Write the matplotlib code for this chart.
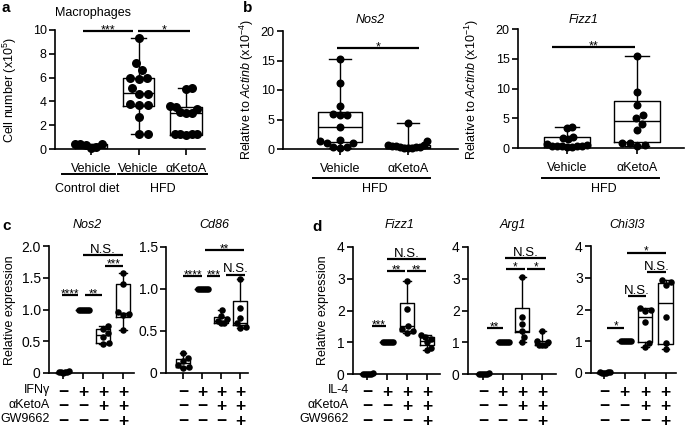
"""Macrophage counts and M1/M2 marker expression (panels a-d)."""

import matplotlib

matplotlib.use("Agg")
import matplotlib.pyplot as plt
import numpy as np
from matplotlib.font_manager import FontProperties
from matplotlib.lines import Line2D
from matplotlib.transforms import blended_transform_factory

W, H = 685, 430

plt.rcParams["font.family"] = ["Liberation Sans", "DejaVu Sans"]
plt.rcParams["mathtext.fontset"] = "custom"
plt.rcParams["mathtext.rm"] = "Liberation Sans"
plt.rcParams["mathtext.it"] = "Liberation Sans:italic"
plt.rcParams["font.size"] = 9

# ---- panel a: macrophages, cell number (x10^5)
a_labels = ["Vehicle", "Vehicle", "\u03b1KetoA"]
a_ctrl_veh = [0.4, 0.4, 0.35, 0.2, 0.05, 0.4]
a_hfd_veh = [9.3, 7.2, 6.6, 6.0, 5.95, 5.9, 5.1, 4.6, 4.6, 3.75, 3.7, 3.7, 2.7, 1.3, 1.3]
a_hfd_keto = [5.1, 5.05, 3.6, 3.5, 3.4, 3.1, 3.05, 3.0, 1.3, 1.3, 1.28, 1.25, 1.15]
a_box = [(0.1, 0.3, 0.4), (3.65, 4.7, 6.0), (1.2, 3.0, 3.5)]

# ---- panel b: relative to Actinb, HFD mice
b_labels = ["Vehicle", "\u03b1KetoA"]
b_nos2_veh = [15.2, 11.2, 7.3, 5.9, 5.8, 5.7, 3.8, 1.5, 1.3, 1.1, 1.0, 0.4, 0.4, 0.1]
b_nos2_keto = [4.4, 1.3, 0.7, 0.6, 0.5, 0.5, 0.4, 0.3, 0.3, 0.2, 0.2, 0.1]
b_nos2_box = [(1.25, 3.8, 6.3), (0.15, 0.35, 0.6)]
b_fizz1_veh = [3.5, 3.3, 1.8, 1.6, 1.5, 0.6, 0.5, 0.4, 0.4, 0.3, 0.3, 0.3, 0.2, 0.2]
b_fizz1_keto = [15.4, 9.4, 7.3, 5.5, 5.0, 4.1, 3.0, 0.85, 0.85, 0.45, 0.3]
b_fizz1_box = [(0.17, 0.45, 1.85), (1.0, 4.6, 7.9)]

# ---- panels c/d: relative expression in BMDM
c_rows = ["IFN\u03b3", "\u03b1KetoA", "GW9662"]
d_rows = ["IL-4", "\u03b1KetoA", "GW9662"]
row_signs = [
    ["\u2212", "+", "+", "+"],
    ["\u2212", "\u2212", "+", "+"],
    ["\u2212", "\u2212", "\u2212", "+"],
]

c_nos2 = [
    [0.02, 0.01, 0.0, 0.03, 0.01, 0.02],
    [1.0, 1.0, 1.0, 1.0, 1.0, 1.0],
    [0.74, 0.70, 0.63, 0.57, 0.48, 0.45],
    [1.57, 1.40, 0.96, 0.93, 0.91, 0.68],
]
c_nos2_box = [(0.0, 0.01, 0.02), (1.0, 1.0, 1.0), (0.47, 0.6, 0.70), (0.88, 0.95, 1.40)]

c_cd86 = [
    [0.24, 0.18, 0.14, 0.10, 0.07, 0.06],
    [1.0, 1.0, 1.0, 1.0, 1.0, 1.0],
    [0.75, 0.68, 0.64, 0.62, 0.60, 0.60],
    [1.12, 0.77, 0.66, 0.60, 0.55, 0.54],
]
c_cd86_box = [(0.07, 0.12, 0.17), (1.0, 1.0, 1.0), (0.60, 0.62, 0.67), (0.57, 0.60, 0.86)]

d_fizz1 = [
    [0.0, 0.01, 0.0, 0.02, 0.0, 0.01],
    [1.0, 1.0, 1.0, 1.0, 1.0, 1.0],
    [2.93, 2.05, 1.5, 1.42, 1.35, 1.3],
    [1.24, 1.18, 1.1, 1.02, 0.82, 0.75],
]
d_fizz1_box = [(0.0, 0.0, 0.01), (1.0, 1.0, 1.0), (1.35, 1.5, 2.25), (0.9, 1.05, 1.15)]

d_arg1 = [
    [0.0, 0.01, 0.0, 0.02, 0.0, 0.01],
    [1.0, 1.0, 1.0, 1.0, 1.0, 1.0],
    [3.07, 1.78, 1.58, 1.36, 1.18, 1.0],
    [1.35, 1.05, 1.0, 0.92, 0.9, 0.9],
]
d_arg1_box = [(0.0, 0.0, 0.01), (1.0, 1.0, 1.0), (1.32, 1.37, 2.07), (0.9, 0.95, 1.05)]

d_chi3l3 = [
    [0.02, 0.0, 0.01, 0.03, 0.0, 0.02],
    [1.0, 1.0, 1.0, 1.0, 1.0, 1.0],
    [2.05, 2.0, 1.95, 1.6, 0.95, 0.82],
    [2.93, 2.88, 2.78, 1.75, 0.95, 0.75],
]
d_chi3l3_box = [(0.0, 0.01, 0.02), (1.0, 1.0, 1.0), (0.97, 1.75, 2.0), (0.9, 2.2, 2.85)]

# significance bars: (x1, x2, y, label) in group units / data units
a_sig = [(-0.17, 0.88, 9.9, "***"), (0.99, 2.08, 9.9, "*")]
b_nos2_sig = [(-0.04, 1.16, 17.1, "*")]
b_fizz1_sig = [(-0.21, 0.97, 17.0, "**")]
c_nos2_sig = [(-0.05, 0.75, 1.23, "****"), (1.1, 1.95, 1.23, "**"),
              (2.1, 3.0, 1.69, "***"), (1.0, 3.0, 1.86, "N.S.")]
c_cd86_sig = [(0.0, 1.0, 1.15, "****"), (1.26, 1.95, 1.15, "***"),
              (2.26, 3.26, 1.17, "N.S."), (1.16, 3.2, 1.46, "**")]
d_fizz1_sig = [(0.25, 0.95, 1.52, "***"), (1.0, 1.9, 3.24, "**"),
               (2.0, 2.95, 3.24, "**"), (1.0, 2.95, 3.61, "N.S.")]
d_arg1_sig = [(0.2, 1.0, 1.45, "**"), (1.17, 2.13, 3.32, "*"),
              (2.23, 3.15, 3.32, "*"), (1.1, 3.2, 3.64, "N.S.")]
d_chi3l3_sig = [(0.15, 0.98, 1.43, "*"), (1.17, 2.05, 2.42, "N.S."),
                (2.1, 3.0, 3.18, "N.S."), (1.1, 3.0, 3.79, "*")]

ROW_Y = [391, 406, 420]  # px from top, glyph centres of the +/- table rows

fig = plt.figure(figsize=(W / 100, H / 100), dpi=100)
fig.patch.set_facecolor("white")
renderer = fig.canvas.get_renderer()


def fy(ypx):
    return 1 - ypx / H


def make_axes(spine_x, end_x, y_zero, y_top, tick0_x, step_x, ymax, yticks, yticklabels, labelsize):
    ax = fig.add_axes([spine_x / W, fy(y_zero), (end_x - spine_x) / W, (y_zero - y_top) / H])
    ax.set_xlim((spine_x - tick0_x) / step_x, (end_x - tick0_x) / step_x)
    ax.set_ylim(0, ymax)
    ax.spines[["top", "right"]].set_visible(False)
    for s in ("left", "bottom"):
        ax.spines[s].set_linewidth(1.2)
    ax.set_yticks(yticks)
    ax.set_yticklabels(yticklabels)
    ax.tick_params(direction="out", length=4, width=1.2, labelsize=labelsize, pad=2)
    ax.patch.set_alpha(0)
    ax.px_x = step_x
    ax.px_y = (y_zero - y_top) / ymax
    return ax


def swarm(vals, px_y, d, hw):
    """Beeswarm offsets in px; squeezed into +-hw when too wide."""
    ys = np.asarray(vals, dtype=float) * px_y
    offs = np.zeros(len(ys))
    placed = []
    for i in np.argsort(ys):
        cands = [0.0]
        for py, ox in placed:
            dy = ys[i] - py
            if abs(dy) < d:
                dx = np.sqrt(d * d - dy * dy)
                cands += [ox + dx, ox - dx]
        cands.sort(key=abs)
        for c in cands:
            if all((ys[i] - py) ** 2 + (c - ox) ** 2 >= d * d - 1e-6 for py, ox in placed):
                offs[i] = c
                break
        placed.append((ys[i], offs[i]))
    m = np.abs(offs).max()
    if m > hw:
        offs *= hw / m
    return offs


def draw_groups(ax, groups, boxes, width, dot_px, d, hw):
    stats = []
    for vals, (q1, med, q3) in zip(groups, boxes):
        stats.append(dict(whislo=min(vals), q1=q1, med=med, q3=q3, whishi=max(vals), fliers=[]))
    lp = dict(color="black", linewidth=1.0)
    arts = ax.bxp(stats, positions=range(len(groups)), widths=width, showfliers=False,
                  boxprops=lp, whiskerprops=lp, capprops=lp, medianprops=lp,
                  manage_ticks=False)
    for k in arts:
        for a in arts[k]:
            a.set_clip_on(False)
            a.set_zorder(2)
    ms = (dot_px * 0.72) ** 2
    for i, vals in enumerate(groups):
        off = swarm(vals, ax.px_y, d, hw) / ax.px_x
        ax.scatter(i + off, vals, s=ms, color="black", linewidths=0, zorder=3, clip_on=False)
    ax.set_xticks(range(len(groups)))


def draw_sig(ax, sigs, star_fs, ns_fs, lw=1.6):
    for x1, x2, y, lab in sigs:
        ax.plot([x1, x2], [y, y], color="black", lw=lw, solid_capstyle="butt", clip_on=False)
        if lab.startswith("N"):
            ax.annotate(lab, ((x1 + x2) / 2, y), xytext=(0, 1.6), textcoords="offset points",
                        ha="center", va="baseline", fontsize=ns_fs, annotation_clip=False)
        else:
            ax.annotate(lab, ((x1 + x2) / 2, y), xytext=(0, -1.6), textcoords="offset points",
                        ha="center", va="baseline", fontsize=star_fs, annotation_clip=False)


def under_line(ax, x1, x2, ypx):
    tr = blended_transform_factory(ax.transData, fig.transFigure)
    fig.add_artist(Line2D([x1, x2], [fy(ypx), fy(ypx)], transform=tr, color="black", lw=1.4))


def under_text(ax, x, ypx, s, **kw):
    tr = blended_transform_factory(ax.transData, fig.transFigure)
    fig.text(x, fy(ypx), s, transform=tr, ha="center", va="center", **kw)


def block_layout(fs, weight, centre_em):
    """Top y and line spacing so that each row's glyph centre lands on ROW_Y."""
    fp = FontProperties(size=fs, weight=weight)
    _, h, d = renderer.get_text_width_height_descent("lp", fp, ismath=False)
    gap = (ROW_Y[2] - ROW_Y[0]) / 2
    ls = (gap - d) / (h - d)
    em = fs * 100 / 72
    top = ROW_Y[0] + centre_em * em - (h - d)
    return top, ls


SIGN_FS = 12.5
sign_top, sign_ls = block_layout(SIGN_FS, "bold", 0.34)
lab_top, lab_ls = block_layout(9, "normal", 0.17)


def sign_rows(ax):
    # one text per column of the condition table
    tr = blended_transform_factory(ax.transData, fig.transFigure)
    for i in range(len(row_signs[0])):
        col = "\n".join(row[i] for row in row_signs)
        fig.text(i, fy(sign_top), col, transform=tr, ha="center", va="top",
                 fontsize=SIGN_FS, fontweight="bold", linespacing=sign_ls)


def row_labels(xpx, labels):
    fig.text(xpx / W, fy(lab_top), "\n".join(labels), ha="right", va="top",
             multialignment="right", fontsize=9, linespacing=lab_ls)


# ================= panel a
ax = make_axes(55, 205, 149, 30, 91, 47.5, 10, [0, 2, 4, 6, 8, 10],
               ["0", "2", "4", "6", "8", "10"], 9)
draw_groups(ax, [a_ctrl_veh, a_hfd_veh, a_hfd_keto], a_box, 0.67, 9, 9, 16)
ax.set_xticklabels(a_labels, fontsize=9)
ax.tick_params(axis="x", pad=6)
draw_sig(ax, a_sig, 9, 9)
fig.text(10 / W, fy(90), "Cell number (x10$^5$)", rotation=90, ha="center", va="center", fontsize=9)
fig.text(55 / W, fy(13), "Macrophages", ha="left", va="center", fontsize=9)
under_line(ax, -0.61, 0.5, 174)
under_line(ax, 0.57, 2.44, 174)
under_text(ax, -0.08, 189, "Control diet", fontsize=9)
under_text(ax, 1.52, 189, "HFD", fontsize=9)
fig.text(2 / W, fy(8), "a", fontsize=11, fontweight="bold", ha="left", va="center")

# ================= panel b
ax = make_axes(283, 458, 149, 31, 340, 68, 20, [0, 5, 10, 15, 20],
               ["0", "5", "10", "15", "20"], 9)
draw_groups(ax, [b_nos2_veh, b_nos2_keto], b_nos2_box, 0.66, 8, 8, 20)
ax.set_xticklabels(b_labels, fontsize=9)
ax.tick_params(axis="x", pad=6)
draw_sig(ax, b_nos2_sig, 9, 9)
fig.text(370 / W, fy(20), "Nos2", style="italic", ha="center", va="center", fontsize=9)
fig.text(247 / W, fy(90), r"Relative to $\it{Actinb}$ (x10$^{-4}$)", rotation=90,
         ha="center", va="center", fontsize=9)
under_line(ax, -0.4, 1.32, 178)
under_text(ax, 0.51, 189, "HFD", fontsize=9)
fig.text(243 / W, fy(8), "b", fontsize=11, fontweight="bold", ha="left", va="center")

ax = make_axes(518, 684, 148, 29, 567, 70, 20, [0, 5, 10, 15, 20],
               ["0", "5", "10", "15", "20"], 9)
draw_groups(ax, [b_fizz1_veh, b_fizz1_keto], b_fizz1_box, 0.67, 8, 8, 20)
ax.set_xticklabels(b_labels, fontsize=9)
ax.tick_params(axis="x", pad=6)
draw_sig(ax, b_fizz1_sig, 9, 9)
fig.text(584 / W, fy(20), "Fizz1", style="italic", ha="center", va="center", fontsize=9)
fig.text(472 / W, fy(90), r"Relative to $\it{Actinb}$ (x10$^{-1}$)", rotation=90,
         ha="center", va="center", fontsize=9)
under_line(ax, -0.36, 1.31, 178)
under_text(ax, 0.53, 189, "HFD", fontsize=9)

# ================= panel c
ax = make_axes(49, 134, 373, 246, 63, 20, 2.0, [0, 0.5, 1.0, 1.5, 2.0],
               ["0", "0.5", "1.0", "1.5", "2.0"], 10)
draw_groups(ax, c_nos2, c_nos2_box, 0.72, 6.5, 6, 6)
ax.set_xticklabels([])
draw_sig(ax, c_nos2_sig, 8.5, 9.5)
sign_rows(ax)
row_labels(50, c_rows)
fig.text(87 / W, fy(225), "Nos2", style="italic", ha="center", va="center", fontsize=9)
fig.text(10 / W, fy(310), "Relative expression", rotation=90, ha="center", va="center", fontsize=9)
fig.text(2 / W, fy(226), "c", fontsize=11, fontweight="bold", ha="left", va="center")

ax = make_axes(166, 248, 373, 247, 183, 19, 1.5, [0, 0.5, 1.0, 1.5],
               ["0", "0.5", "1.0", "1.5"], 10)
draw_groups(ax, c_cd86, c_cd86_box, 0.72, 6.5, 6, 6)
ax.set_xticklabels([])
draw_sig(ax, c_cd86_sig, 8.5, 9.5)
sign_rows(ax)
fig.text(214 / W, fy(225), "Cd86", style="italic", ha="center", va="center", fontsize=9)

# ================= panel d
specs = [
    (353, 440, 374, 247, 367, 20, d_fizz1, d_fizz1_box, d_fizz1_sig, "Fizz1", 400),
    (468, 556, 374, 247, 483, 19.7, d_arg1, d_arg1_box, d_arg1_sig, "Arg1", 513),
    (591, 676, 373, 246, 604, 20.5, d_chi3l3, d_chi3l3_box, d_chi3l3_sig, "Chi3l3", 627),
]
for sx, ex, y0, yt, t0, st, data, box, sig, title, tx in specs:
    ax = make_axes(sx, ex, y0, yt, t0, st, 4, [0, 1, 2, 3, 4], ["0", "1", "2", "3", "4"], 10)
    draw_groups(ax, data, box, 0.72, 6.5, 6, 6)
    ax.set_xticklabels([])
    draw_sig(ax, sig, 8.5, 9.5)
    sign_rows(ax)
    fig.text(tx / W, fy(225), title, style="italic", ha="center", va="center", fontsize=9)
row_labels(349, d_rows)
fig.text(323 / W, fy(310), "Relative expression", rotation=90, ha="center", va="center", fontsize=9)
fig.text(312 / W, fy(227), "d", fontsize=11, fontweight="bold", ha="left", va="center")

fig.savefig("out.png", dpi=100, facecolor="white")
